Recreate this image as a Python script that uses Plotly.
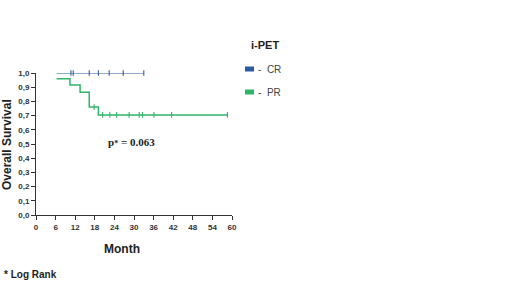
import plotly.graph_objects as go

# Data
cr_times = [6.3, 33.0]
cr_surv = [1.0, 1.0]
cr_censor_times = [10.7, 11.4, 16.3, 19.1, 22.4, 26.7, 33.0]

pr_times = [6.3, 10.4, 13.5, 16.3, 19.1, 58.6]
pr_surv = [0.96, 0.915, 0.865, 0.76, 0.705, 0.705]
pr_censor_times = [17.8, 20.4, 22.6, 24.7, 28.5, 31.6, 32.6, 36.1, 41.5, 58.6]

x_ticks = list(range(0, 61, 6))
y_ticks = [i / 10 for i in range(11)]
y_tick_labels = [f"{v:.1f}".replace(".", ",") for v in y_ticks]

BLUE = "#2d5a9c"
GREEN = "#2fb56a"


def step_value(t, times, surv):
    v = surv[0]
    for tt, s in zip(times, surv):
        if t >= tt:
            v = s
    return v


pr_censor_surv = [step_value(t, pr_times, pr_surv) for t in pr_censor_times]
cr_censor_surv = [step_value(t, cr_times, cr_surv) for t in cr_censor_times]

fig = go.Figure()
fig.add_trace(go.Scatter(x=cr_times, y=cr_surv, mode="lines", line=dict(color=BLUE, width=1.2, shape="hv"),
                         showlegend=False, cliponaxis=False))
fig.add_trace(go.Scatter(x=cr_censor_times, y=cr_censor_surv, mode="markers",
                         marker=dict(symbol="line-ns", size=4, line=dict(color=BLUE, width=1.1)),
                         showlegend=False, cliponaxis=False))
fig.add_trace(go.Scatter(x=pr_times, y=pr_surv, mode="lines", line=dict(color=GREEN, width=1.5, shape="hv"),
                         showlegend=False, cliponaxis=False))
fig.add_trace(go.Scatter(x=pr_censor_times, y=pr_censor_surv, mode="markers",
                         marker=dict(symbol="line-ns", size=4, line=dict(color=GREEN, width=1.1)),
                         showlegend=False, cliponaxis=False))

FONT = "Liberation Sans, Arial, sans-serif"

fig.update_layout(
    width=520, height=292,
    margin=dict(l=36, r=288, t=73, b=77),
    paper_bgcolor="white", plot_bgcolor="white",
    font=dict(family=FONT, color="#222222"),
    showlegend=False,
)
fig.update_xaxes(range=[0, 60], tickvals=x_ticks, ticktext=[f"<b>{v}</b>" for v in x_ticks],
                 showgrid=False, zeroline=False, showline=True, linecolor="#333333", linewidth=1,
                 ticks="outside", ticklen=4, tickcolor="#333333",
                 tickfont=dict(size=8, family=FONT, color="#333333"), fixedrange=True)
fig.update_yaxes(range=[0, 1.0], tickvals=y_ticks, ticktext=[f"<b>{t}</b>" for t in y_tick_labels],
                 showgrid=False, zeroline=False, showline=True, linecolor="#333333", linewidth=1,
                 ticks="outside", ticklen=4, tickcolor="#333333",
                 tickfont=dict(size=8, family=FONT, color="#333333"), fixedrange=True)


def px(x):
    return (x - 36) / 196


def py(y):
    return (215 - y) / 142


def note(text, x, y, size, xanchor="center", color="#222222", family=FONT, angle=0):
    return dict(text=text, x=px(x), y=py(y), xref="paper", yref="paper", xanchor=xanchor,
                yanchor="middle", textangle=angle, showarrow=False,
                font=dict(size=size, family=family, color=color))


ann = [
    note("<b>Overall Survival</b>", 7, 145, 12, angle=-90),
    note("<b>Month</b>", 122, 249, 12),
    note("<b>* Log Rank</b>", 2, 274, 10, xanchor="left"),
    note("<b>p<span style='font-size:8px'>*</span> = 0.063</b>", 106, 142, 11, xanchor="left",
         family="Liberation Serif, Times New Roman, serif"),
    note("<b>i-PET</b>", 265, 45, 11),
    note("-  CR", 256, 69, 10, xanchor="left", color="#444444"),
    note("-  PR", 256, 92, 10, xanchor="left", color="#444444"),
]
fig.update_layout(annotations=ann)

shapes = [
    dict(type="rect", xref="paper", yref="paper", x0=px(245), x1=px(254),
         y0=py(71.5), y1=py(66.5), fillcolor=BLUE, line=dict(width=0)),
    dict(type="rect", xref="paper", yref="paper", x0=px(245), x1=px(254),
         y0=py(94.5), y1=py(89.5), fillcolor=GREEN, line=dict(width=0)),
]
fig.update_layout(shapes=shapes)

fig.write_html("out.html", config={"displayModeBar": False},
               post_script="document.body.style.margin='0';")
